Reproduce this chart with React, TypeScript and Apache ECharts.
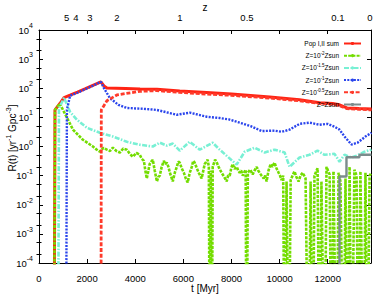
import React, { useEffect, useRef } from 'react';
import * as echarts from 'echarts';

const FONT = "'Liberation Sans', Arial, Helvetica, sans-serif";

// ---- data (t in Myr, R in yr^-1 Gpc^-3; 0 = no events in that bin) ----
const sumT = [622, 664, 870, 1040, 1290, 1600, 1910, 2240, 2573, 2700, 2822, 3200, 3600, 4200, 4900, 5850, 6970, 8000, 9590, 10830, 11660, 12200, 12490, 12800, 13300, 13820];
const sumR = [0, 18, 30, 48, 58, 74, 95, 126, 166, 120, 102, 100, 98, 95, 93, 80, 72, 64, 50, 40, 32, 30, 27, 21, 20, 19.5];

const z2T = [622, 664, 870, 996, 1162, 1411, 1826, 2241, 2380, 2532, 2680, 2822, 2950, 3071, 3220, 3362, 3500, 3652, 3780, 3900, 4050, 4190, 4270, 4360, 4420, 4480, 4540, 4600, 4660, 4730, 4810, 4900, 4960, 5020, 5100, 5190, 5250, 5310, 5380, 5440, 5500, 5560, 5650, 5730, 5790, 5850, 5930, 6020, 6100, 6180, 6260, 6350, 6410, 6470, 6560, 6640, 6700, 6760, 6830, 6890, 6950, 7010, 7060, 7100, 7140, 7180, 7220, 7260, 7320, 7390, 7490, 7590, 7700, 7800, 7860, 7930, 7990, 8050, 8130, 8220, 8280, 8340, 8400, 8470, 8530, 8590, 8630, 8680, 8780, 8880, 8960, 9050, 9110, 9170, 9250, 9340, 9400, 9460, 9540, 9630, 9700, 9790, 9870, 9960, 10020, 10080, 10150, 10210, 10290, 10380, 10460, 10540, 10620, 10700, 10790, 10870, 10960, 11080, 11200, 11290, 11370, 11450, 11580, 11660, 11740, 11870, 11950, 12010, 12080, 12160, 12240, 12370, 12450, 12530, 12660, 12740, 12820, 12910, 12990, 13110, 13200, 13280, 13360, 13490, 13570, 13650, 13740, 13820];
const z2R = [0, 18, 30, 18, 9.8, 3.8, 1.7, 1.0, 0.8, 0.66, 0.9, 0.78, 0.7, 0.91, 0.7, 0.62, 0.85, 0.78, 0.55, 0.45, 0.6, 0.52, 0.38, 0.32, 0.15, 0.08, 0.14, 0.25, 0.3, 0.35, 0.15, 0.063, 0.09, 0.1, 0.2, 0.32, 0.25, 0.28, 0.2, 0.126, 0.09, 0.063, 0.13, 0.2, 0.3, 0.28, 0.18, 0.126, 0.08, 0.058, 0.12, 0.2, 0.32, 0.28, 0.18, 0.126, 0.1, 0.08, 0.15, 0.25, 0.3, 0.35, 0.2, 0, 0.15, 0, 0.2, 0.25, 0.35, 0.28, 0.18, 0.126, 0.09, 0.063, 0.1, 0.1, 0.18, 0.25, 0.17, 0.2, 0.15, 0.126, 0.15, 0.1, 0.13, 0.16, 0, 0.126, 0.16, 0.11, 0.15, 0.2, 0.15, 0.126, 0.1, 0.08, 0.1, 0.063, 0.15, 0.25, 0.2, 0.28, 0.18, 0.126, 0.1, 0.07, 0.1, 0, 0.063, 0, 0.07, 0.1, 0.14, 0.09, 0.063, 0.1, 0.126, 0.08, 0, 0.063, 0, 0.1, 0.18, 0, 0.063, 0, 0.2, 0.15, 0.11, 0, 0.14, 0, 0.126, 0.063, 0, 0.08, 0, 0.2, 0, 0.16, 0.1, 0, 0.14, 0, 0.126, 0, 0.1, 0.126];

const z15T = [790, 830, 1040, 1290, 1577, 1992, 2532, 3071, 3652, 4190, 4731, 5020, 5312, 5560, 5850, 6266, 6680, 7221, 7510, 7800, 8217, 8550, 8964, 9380, 9794, 10209, 10416, 10831, 11246, 11578, 11869, 12284, 12491, 12699, 12990, 13200, 13530, 13820];
const z15R = [0, 20, 47, 15.5, 8.3, 4.4, 2.95, 2.2, 1.45, 1.15, 1.0, 1.35, 1.07, 1.26, 0.72, 1.45, 0.78, 1.35, 0.78, 0.48, 0.24, 0.66, 0.91, 0.62, 0.78, 0.62, 0.2, 0.42, 0.52, 0.72, 0.52, 0.56, 0.3, 0.52, 0.42, 0.48, 0.66, 0.78];

const z1T = [1120, 1160, 1290, 1600, 1910, 2240, 2573, 2700, 2947, 3300, 3652, 4190, 4600, 4897, 5300, 5727, 6266, 6600, 6972, 7511, 7900, 8341, 8800, 9254, 9794, 10100, 10416, 10831, 11246, 11661, 12000, 12284, 12491, 12699, 12990, 13240, 13570, 13820];
const z1R = [0, 18, 55, 70, 92, 122, 166, 100, 46, 27, 21, 20, 19, 18, 15, 12.3, 14.5, 12.5, 10.5, 9.5, 8.5, 6.6, 5.0, 3.4, 3.5, 3.2, 3.8, 6.0, 6.6, 5.6, 6.0, 4.8, 3.8, 2.2, 1.17, 1.35, 2.2, 2.95];

const z05T = [2573, 2590, 2822, 3240, 4190, 4900, 5850, 6970, 8000, 9590, 10830, 11660, 12200, 12490, 12800, 13300, 13820];
const z05R = [0, 18, 37, 59, 78, 83, 72, 63, 57, 46, 37, 30, 28, 25, 20, 19, 18];

const zsunT = [12000, 12490, 12780, 13320, 13820];
const zsunR = [0, 0.093, 0.43, 0.52, 0.52];

// ---- axes / labels ----
const seriesNames = ['Pop I,II sum', 'Z=10^-2Zsun', 'Z=10^-1.5Zsun', 'Z=10^-1Zsun', 'Z=10^-0.5Zsun', 'Z=Zsun'];
const legendLabels = ['Pop I,II sum', 'Z=10{s|-2}Zsun', 'Z=10{s|-1.5}Zsun', 'Z=10{s|-1}Zsun', 'Z=10{s|-0.5}Zsun', 'Z=Zsun'];
const xTickValues = [0, 2000, 4000, 6000, 8000, 10000, 12000];
const zLabels = ['5', '4', '3', '2', '1', '0.5', '0.1', '0'];
const zTimes = [1151, 1538, 2120, 3242, 5860, 8644, 12426, 13756];
const yDecades = [-4, -3, -2, -1, 0, 1, 2, 3];
const yMinorFactors = [2, 5];

const pairs = (t: number[], r: number[]) => t.map((v, i) => [v, r[i] > 0 ? r[i] : 1e-9]);

const minorTickVals: number[] = [];
yDecades.forEach((d) => yMinorFactors.forEach((f) => minorTickVals.push(d + Math.log10(f))));

export default function App() {
  const ref = useRef<HTMLDivElement>(null);
  useEffect(() => {
    document.body.style.margin = '0';
    const chart = echarts.init(ref.current!, null, { renderer: 'svg' });
    const axisLine = { show: true, onZero: false, lineStyle: { color: '#000', width: 1 } };
    const lbl = { color: '#000', fontSize: 9.5, fontFamily: FONT };
    const yLogBase = {
      type: 'log' as const,
      logBase: 10,
      min: 1e-4,
      max: 1e4,
      splitNumber: 8,
      axisLine,
      splitLine: { show: false },
      minorTick: { show: false },
      axisTick: { show: true, inside: true, length: 4, lineStyle: { color: '#000' } },
    };
    const yMinorBase = {
      type: 'value' as const,
      min: -4,
      max: 4,
      axisLine: { show: false },
      splitLine: { show: false },
      axisLabel: { show: false },
      axisTick: { show: true, inside: true, length: 2.5, customValues: minorTickVals, lineStyle: { color: '#000' } },
    };
    const mk = (name: string, t: number[], r: number[], color: string, width: number, type: any, extra: any = {}) => ({
      name,
      type: 'line',
      data: pairs(t, r),
      showSymbol: false,
      symbol: 'none',
      clip: true,
      lineStyle: { color, width, type },
      itemStyle: { color },
      ...extra,
    });
    chart.setOption({
      animation: false,
      backgroundColor: '#fff',
      grid: { left: 39, right: 3, top: 30, bottom: 33, outerBoundsMode: 'none' },
      xAxis: [
        {
          type: 'value', position: 'bottom', min: 0, max: 13800,
          axisLine, splitLine: { show: false },
          axisTick: { inside: true, length: 4, customValues: xTickValues, lineStyle: { color: '#000' } },
          axisLabel: { ...lbl, customValues: xTickValues, margin: 10, formatter: (v: number) => String(v) },
          name: 't [Myr]', nameLocation: 'middle', nameGap: 20, nameMoveOverlap: false,
          nameTextStyle: { color: '#000', fontSize: 10, fontFamily: FONT },
        },
        {
          type: 'value', position: 'top', min: 0, max: 13800,
          axisLine, splitLine: { show: false },
          axisTick: { inside: true, length: 4, customValues: xTickValues, lineStyle: { color: '#000' } },
          axisLabel: {
            ...lbl, customValues: zTimes, margin: 8,
            formatter: (v: number) => { const i = zTimes.indexOf(v); return i >= 0 ? zLabels[i] : ''; },
          },
          name: 'z', nameLocation: 'middle', nameGap: 18, nameMoveOverlap: false,
          nameTextStyle: { color: '#000', fontSize: 10, fontFamily: FONT },
        },
      ],
      yAxis: [
        {
          ...yLogBase, position: 'left',
          axisLabel: {
            ...lbl, margin: 6,
            formatter: (v: number) => '{b|10}{s|' + Math.round(Math.log10(v)) + '}',
            rich: {
              b: { fontSize: 9.5, fontFamily: FONT, color: '#000', lineHeight: 16, verticalAlign: 'middle' },
              s: { fontSize: 7, fontFamily: FONT, color: '#000', lineHeight: 16, verticalAlign: 'top' },
            },
          },
        },
        { ...yLogBase, position: 'right', axisLabel: { show: false } },
        { ...yMinorBase, position: 'left' },
        { ...yMinorBase, position: 'right' },
      ],
      legend: {
        orient: 'vertical', right: 7, top: 34, align: 'right',
        itemWidth: 17, itemHeight: 4, itemGap: 3.2, selectedMode: false,
        data: seriesNames,
        formatter: (name: string) => legendLabels[seriesNames.indexOf(name)],
        textStyle: {
          color: '#000', fontSize: 6.5, fontFamily: FONT, lineHeight: 9,
          rich: {
            s: { fontSize: 4.5, fontFamily: FONT, color: '#000', lineHeight: 9, verticalAlign: 'top' },
          },
        },
      },
      graphic: [
        {
          type: 'text', x: 12, y: 138, rotation: Math.PI / 2,
          style: {
            text: 'R(t) [yr{s|-1} Gpc{s|-3}]',
            fontSize: 10, fontFamily: FONT, fill: '#000',
            align: 'center', verticalAlign: 'middle',
            rich: {
              s: { fontSize: 7, fontFamily: FONT, fill: '#000', lineHeight: 14, verticalAlign: 'top' },
            },
          },
        },
      ],
      series: [
        mk(seriesNames[0], sumT, sumR, '#ff2414', 3, 'solid'),
        mk(seriesNames[1], z2T, z2R, '#73dd00', 2.6, [3, 1.2]),
        mk(seriesNames[2], z15T, z15R, '#78f0d4', 2.6, [5, 1.5, 1.5, 1.5]),
        mk(seriesNames[3], z1T, z1R, '#2a45ec', 2.4, [2, 1.3]),
        mk(seriesNames[4], z05T, z05R, '#ff3a2a', 2.8, [4, 1.8]),
        mk(seriesNames[5], zsunT, zsunR, '#7c8c8c', 2.4, 'solid', { step: 'end' }),
      ],
    });
    return () => chart.dispose();
  }, []);
  return <div ref={ref} style={{ width: 374, height: 296 }} />;
}
